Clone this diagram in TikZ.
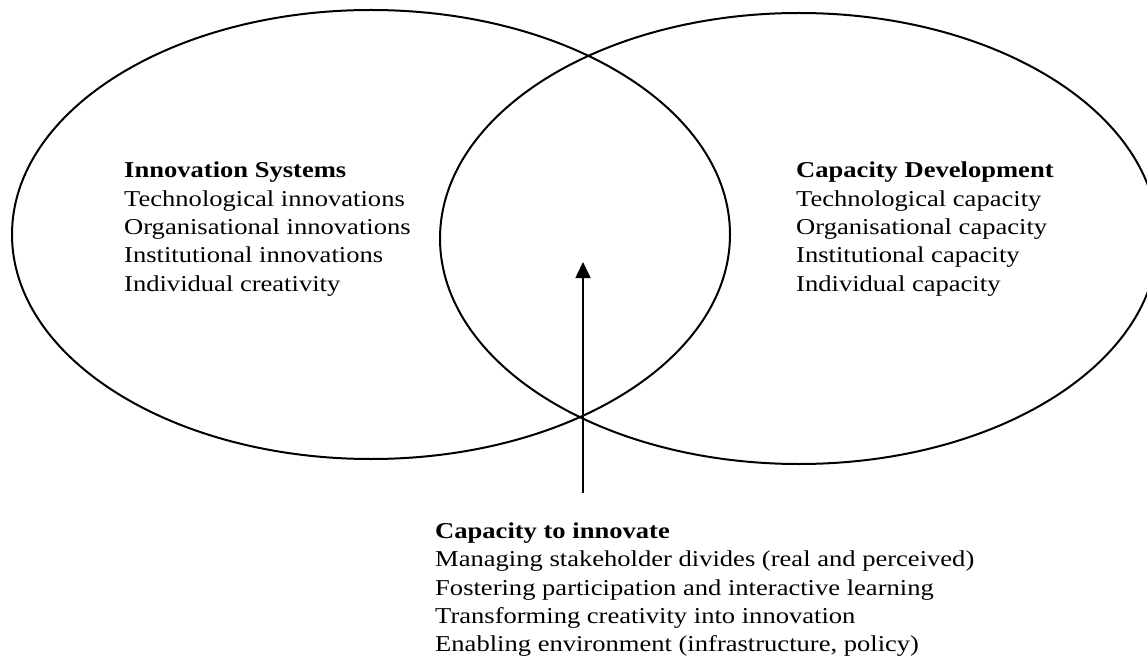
\documentclass[tikz,border=0pt]{standalone}
\usepackage{fontspec}
\setmainfont{Liberation Serif}[FakeStretch=1.17]
\usepackage{tikz}
\usetikzlibrary{calc,arrows.meta,shapes.geometric,positioning}

\begin{document}
\begin{tikzpicture}[x=1pt,y=-1pt]

\tikzset{setnode/.style={shape=ellipse,draw=black,line width=2pt,inner sep=0pt,minimum width=718pt},
listnode/.style={font=\fontsize{22.7}{28.3}\selectfont,align=left,anchor=north west,inner sep=0pt},
pointer/.style={line width=1.6pt,-{Triangle[length=16pt,width=15pt]}}}

\useasboundingbox (0,0) rectangle (1147,668);
\clip (0,0) rectangle (1147,668);

% The two sets
\node[setnode,minimum height=449pt] (innsys) at (371,234.5) {};
\node[setnode,minimum height=451pt] (capdev) at (799,238.5) {};

% Set contents
\node[listnode] (innsyslist) at (124,162) {\textbf{Innovation Systems}\\Technological innovations\\Organisational innovations\\Institutional innovations\\Individual creativity};
\node[listnode] (capdevlist) at (796,162) {\textbf{Capacity Development}\\Technological capacity\\Organisational capacity\\Institutional capacity\\Individual capacity};

% Overlap
\node[listnode] (capinn) at (435,522.5) {\textbf{Capacity to innovate}\\Managing stakeholder divides (real and perceived)\\Fostering participation and interactive learning\\Transforming creativity into innovation\\Enabling environment (infrastructure, policy)};
\coordinate (arrowfoot) at (583,493);
\coordinate (arrowtip) at (583,262);
\draw[pointer] (arrowfoot) -- (arrowtip);

\end{tikzpicture}
\end{document}
